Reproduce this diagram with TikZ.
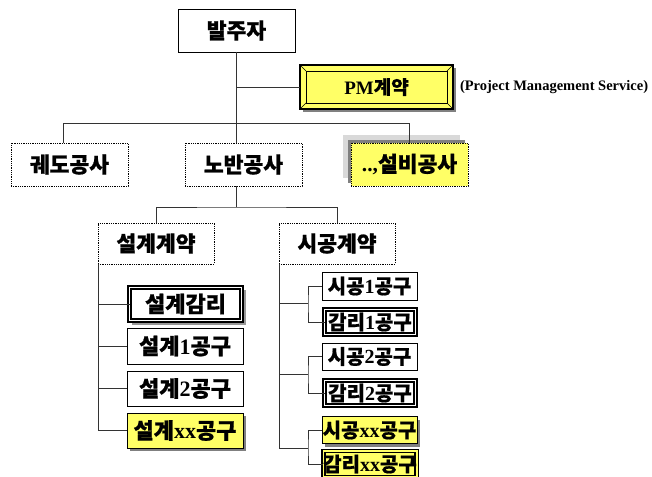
\documentclass[tikz,border=0pt]{standalone}
\usepackage{fontspec}
\setmainfont{Liberation Serif}
\newfontfamily\kr{Noto Sans CJK KR}[BoldFeatures={FakeBold=0.8}]
\newcommand\K[1]{{\kr\bfseries #1}}
\definecolor{boxyellow}{RGB}{255,255,102}
\pgfdeclarelayer{background}
\pgfsetlayers{background,main}
\begin{document}
\begin{tikzpicture}[x=1pt,y=-1pt,
  every node/.style={inner sep=0pt, outer sep=0pt, align=center},
  fbig/.style={font=\bfseries\fontsize{21.5pt}{21.5pt}\selectfont},
  fmid/.style={font=\bfseries\fontsize{22pt}{22pt}\selectfont},
  fsmall/.style={font=\bfseries\fontsize{20pt}{20pt}\selectfont},
  fpm/.style={font=\bfseries\fontsize{19pt}{19pt}\selectfont},
  fnote/.style={font=\bfseries\fontsize{14.5pt}{14.5pt}\selectfont},
  conn/.style={draw=black!80, line width=0.9pt},
  plainbox/.style={draw=black, line width=0.8pt, fill=white},
  dotbox/.style={draw=black, densely dotted, line width=0.8pt, fill=white},
  dblbox/.style={draw=black, double=white, line width=1.7pt, double distance=1.4pt, fill=white},
  ybox/.style={fill=boxyellow},
  pmbox/.style={fill=boxyellow, draw=black, line width=1.4pt}
]
\useasboundingbox (0,0) rectangle (652,476);

% top level
\node[plainbox, fbig, minimum width=117pt, minimum height=43pt] (top) at (236.5,30.5) {\K{발주자}};
\node[pmbox, fpm, minimum width=153pt, minimum height=44pt] (pm) at (376.5,87) {PM\K{계약}};
\draw[line width=0.8pt] ([shift={(6,6)}]pm.north west) rectangle ([shift={(-6,-6)}]pm.south east);
\draw[line width=0.6pt] (pm.north west) -- ([shift={(6,6)}]pm.north west)
  (pm.north east) -- ([shift={(-6,6)}]pm.north east)
  (pm.south west) -- ([shift={(6,-6)}]pm.south west)
  (pm.south east) -- ([shift={(-6,-6)}]pm.south east);
\node[fnote, anchor=west] (pmnote) at (460,87) {(Project Management Service)};

% second level
\node[dotbox, fbig, minimum width=117pt, minimum height=43pt] (rail) at (69.5,164.5) {\K{궤도공사}};
\node[dotbox, fbig, minimum width=117pt, minimum height=43pt] (roadbed) at (243.5,164.5) {\K{노반공사}};
\node[dotbox, ybox, fbig, minimum width=117pt, minimum height=43pt] (equip) at (409.5,164.5) {..,\K{설비공사}};

% third level
\node[dotbox, fbig, minimum width=116pt, minimum height=41pt] (design) at (156,243.5) {\K{설계계약}};
\node[dotbox, fbig, minimum width=116pt, minimum height=41pt] (const) at (337,243.5) {\K{시공계약}};

% design column
\node[dblbox, fmid, minimum width=112pt, minimum height=33pt] (dsup) at (185.5,304) {\K{설계감리}};
\node[plainbox, fmid, minimum width=116pt, minimum height=36pt] (d1) at (185,346) {\K{설계}1\K{공구}};
\node[plainbox, fmid, minimum width=116pt, minimum height=35pt] (d2) at (185,388.5) {\K{설계}2\K{공구}};
\node[plainbox, ybox, fmid, minimum width=116pt, minimum height=35pt] (dxx) at (185,430.5) {\K{설계}xx\K{공구}};

% construction column
\node[plainbox, fsmall, minimum width=95pt, minimum height=28pt] (c1) at (369.5,286) {\K{시공}1\K{공구}};
\node[dblbox, fsmall, minimum width=91pt, minimum height=25pt] (s1) at (370,322) {\K{감리}1\K{공구}};
\node[plainbox, fsmall, minimum width=95pt, minimum height=27pt] (c2) at (369.5,356.5) {\K{시공}2\K{공구}};
\node[dblbox, fsmall, minimum width=91pt, minimum height=25pt] (s2) at (370,393) {\K{감리}2\K{공구}};
\node[plainbox, ybox, fsmall, minimum width=95pt, minimum height=27pt] (cxx) at (369.5,430) {\K{시공}xx\K{공구}};
\node[dblbox, fsmall, fill=boxyellow, double=boxyellow, minimum width=91pt, minimum height=26pt] (sxx) at (370,464) {\K{감리}xx\K{공구}};

% shadows
\begin{pgfonlayer}{background}
\fill[white] (0,0) rectangle (652,476);
\fill[black!50] ([shift={(3,3)}]pm.north west) rectangle ([shift={(3,3)}]pm.south east);
\fill[black!15] ([shift={(-8,-8)}]equip.north west) rectangle ([shift={(-8,-8)}]equip.south east);
\fill[black!50] ([shift={(-3,-3)}]equip.north west) rectangle ([shift={(-3,-3)}]equip.south east);
\fill[black!50] ([shift={(3,3)}]dxx.north west) rectangle ([shift={(3,3)}]dxx.south east);
\fill[black!50] ([shift={(3,3)}]cxx.north west) rectangle ([shift={(3,3)}]cxx.south east);
\fill[black!40] ([shift={(2,2)}]dsup.north west) rectangle ([shift={(4,4)}]dsup.south east);
\end{pgfonlayer}

% connectors
\coordinate (busL) at (63,123);
\coordinate (busR) at (409.5,123);
\coordinate (bus2) at (236.5,207);
\coordinate (j1) at (308,303);
\coordinate (j2) at (308,374);
\coordinate (j3) at (308,448);

\draw[conn] (top.south) -- (top.south |- roadbed.north);
\draw[conn] (top.south |- pm.west) -- (pm.west);
\draw[conn] (rail.north -| busL) -- (busL) -- (busR) -- (equip.north);
\draw[conn] (roadbed.south -| bus2) -- (bus2);
\draw[conn] (design.north) |- (bus2) -| (const.north);

\draw[conn] (design.south west) |- (dxx.west);
\draw[conn] (design.south west |- dsup.west) -- (dsup.west);
\draw[conn] (design.south west |- d1.west) -- (d1.west);
\draw[conn] (design.south west |- d2.west) -- (d2.west);

\draw[conn] (const.south west) -- (const.south west |- j3);
\draw[conn] (const.south west |- j1) -- (j1);
\draw[conn] (const.south west |- j2) -- (j2);
\draw[conn] (const.south west |- j3) -- (j3);
\draw[conn] (c1.west) -| (j1) |- (s1.west);
\draw[conn] (c2.west) -| (j2) |- (s2.west);
\draw[conn] (cxx.west) -| (j3) |- (sxx.west);
\end{tikzpicture}
\end{document}
